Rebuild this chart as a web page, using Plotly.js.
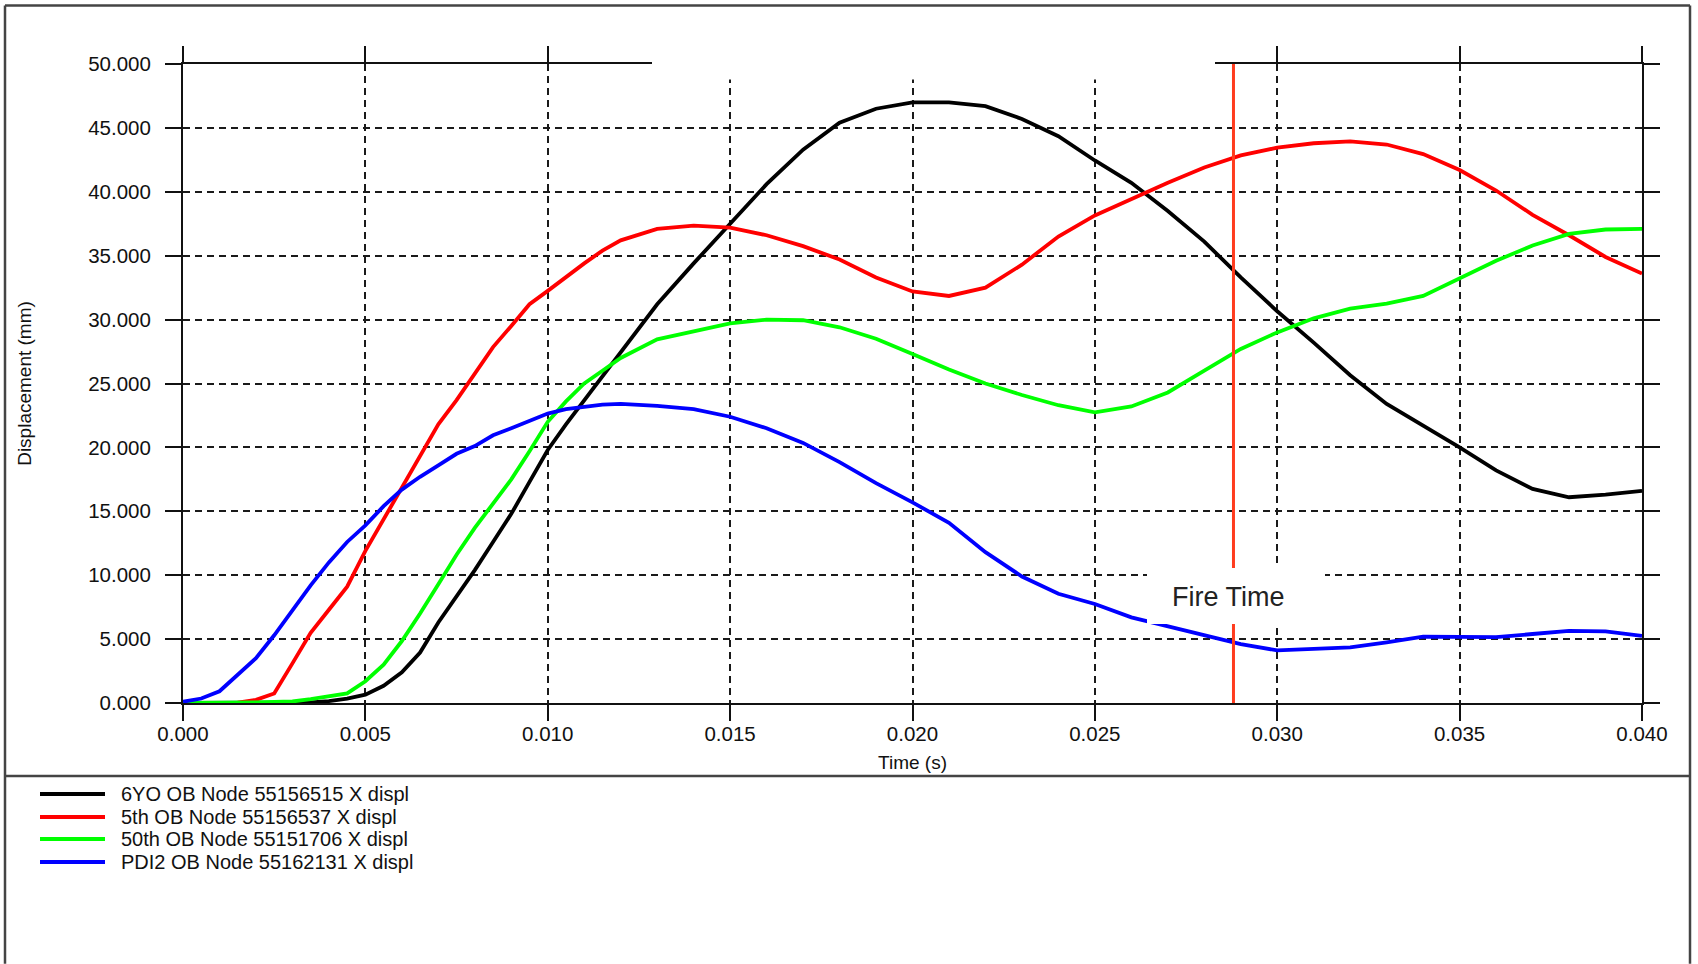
<!DOCTYPE html>
<html>
<head>
<meta charset="utf-8">
<script src="https://cdn.plot.ly/plotly-3.0.1.min.js"></script>
<style>html,body{margin:0;padding:0;background:#fff;}#chart{width:1698px;height:964px;}</style>
</head>
<body>
<div id="chart"></div>
<script>
// ---- data (time in s, displacement in mm) ----
const time = [0.0000,0.0005,0.0010,0.0015,0.0020,0.0025,0.0030,0.0035,0.0040,0.0045,
              0.0050,0.0055,0.0060,0.0065,0.0070,0.0075,0.0080,0.0085,0.0090,0.0095,
              0.0100,0.0105,0.0110,0.0115,0.0120,
              0.013,0.014,0.015,0.016,0.017,0.018,0.019,0.020,0.021,0.022,
              0.023,0.024,0.025,0.026,0.027,0.028,0.029,0.030,0.031,0.032,
              0.033,0.034,0.035,0.036,0.037,0.038,0.039,0.040];
const sixYO = [0,0,0,0,0,0,0,0.05,0.15,0.35,
               0.65,1.35,2.4,3.95,6.3,8.3,10.4,12.6,14.8,17.3,
               19.8,21.8,23.7,25.6,27.5,
               31.2,34.4,37.5,40.6,43.3,45.4,46.5,47.0,47.0,46.7,
               45.7,44.35,42.45,40.7,38.5,36.1,33.3,30.65,28.2,25.65,
               23.4,21.7,20.0,18.2,16.75,16.1,16.3,16.6];
const fifth = [0,0,0,0.02,0.25,0.75,3.1,5.5,7.3,9.1,
               11.9,14.4,16.8,19.3,21.8,23.7,25.8,27.85,29.5,31.2,
               32.25,33.35,34.4,35.4,36.2,
               37.1,37.35,37.2,36.6,35.75,34.7,33.3,32.2,31.85,32.5,
               34.3,36.5,38.15,39.45,40.7,41.9,42.85,43.45,43.8,43.95,
               43.7,42.95,41.7,40.1,38.2,36.6,34.9,33.6];
const fiftieth = [0,0,0,0.02,0.05,0.08,0.12,0.3,0.5,0.75,
                  1.7,3.0,4.85,7.0,9.3,11.6,13.7,15.6,17.5,19.7,
                  22.0,23.6,25.0,26.0,27.0,
                  28.45,29.1,29.7,30.0,29.95,29.4,28.5,27.3,26.1,25.0,
                  24.1,23.3,22.75,23.2,24.3,26.0,27.7,29.0,30.1,30.85,
                  31.25,31.85,33.2,34.6,35.8,36.7,37.05,37.1];
const pdi2 = [0.1,0.35,0.92,2.2,3.5,5.3,7.3,9.2,11.0,12.6,
              13.9,15.4,16.7,17.7,18.6,19.5,20.1,20.95,21.5,22.1,
              22.65,23.0,23.2,23.35,23.4,
              23.25,23.0,22.4,21.5,20.35,18.85,17.2,15.7,14.1,11.8,
              9.9,8.55,7.75,6.7,6.0,5.25,4.6,4.12,4.2,4.35,
              4.75,5.2,5.17,5.15,5.4,5.65,5.6,5.25];
const seriesNames = ['6YO OB Node 55156515 X displ','5th OB Node 55156537 X displ',
                     '50th OB Node 55151706 X displ','PDI2 OB Node 55162131 X displ'];
const seriesValues = [sixYO, fifth, fiftieth, pdi2];
const seriesColors = ['#000000','#ff0000','#00ff00','#0000ff'];
const fireTime = 0.0288;
const fireLabel = 'Fire Time';
const xTitle = 'Time (s)';
const yTitle = 'Displacement (mm)';

// ---- geometry (pixels) ----
const W = 1698, H = 964;
const ML = 183, PW = 1459, MT = 63.5, MB = 261;
const PH = H - MT - MB;
const PBOT = MT + PH;
const px = v => (v - ML) / PW;      // pixel x -> paper
const py = v => (PBOT - v) / PH;    // pixel y -> paper
const FONT = 'Liberation Sans, Arial, sans-serif';

const traces = seriesValues.map((vals, i) => ({
  type: 'scatter', mode: 'lines', x: time, y: vals, name: seriesNames[i],
  line: {color: seriesColors[i], width: 3.8}, showlegend: false, hoverinfo: 'skip'
}));

const frameColor = '#444';
const shapes = [
  // outer frame
  {type:'line', xref:'paper', yref:'paper', x0:px(5), x1:px(1690), y0:py(5), y1:py(5), line:{color:frameColor, width:2.5}},
  {type:'line', xref:'paper', yref:'paper', x0:px(5), x1:px(5), y0:py(5), y1:py(964), line:{color:frameColor, width:2.5}},
  {type:'line', xref:'paper', yref:'paper', x0:px(1690), x1:px(1690), y0:py(5), y1:py(964), line:{color:frameColor, width:2.5}},
  {type:'line', xref:'paper', yref:'paper', x0:px(5), x1:px(1690), y0:py(776), y1:py(776), line:{color:frameColor, width:2.5}},
  // fire time marker
  {type:'line', xref:'x', yref:'y', x0:fireTime, x1:fireTime, y0:0, y1:50.27, layer:'above', line:{color:'#ff3c1e', width:3}},
  // white patch at top (erased title area)
  {type:'rect', xref:'paper', yref:'paper', x0:px(652), x1:px(1215), y0:py(79), y1:py(20), layer:'above', fillcolor:'#ffffff', line:{width:0}},
  // white box behind Fire Time label
  {type:'rect', xref:'paper', yref:'paper', x0:px(1147), x1:px(1325), y0:py(624), y1:py(568), layer:'above', fillcolor:'#ffffff', line:{width:0}}
];

const annotations = [
  {xref:'x', yref:'y', x:0.02866, y:8.33, text:fireLabel, showarrow:false, xanchor:'center', yanchor:'middle',
   font:{family:FONT, size:27, color:'#222'}}
];

// manual legend
const legendRows = [794, 817, 839, 862];
seriesNames.forEach((n, i) => {
  shapes.push({type:'line', xref:'paper', yref:'paper', x0:px(40), x1:px(105), y0:py(legendRows[i]), y1:py(legendRows[i]),
               line:{color:seriesColors[i], width:4}});
  annotations.push({xref:'paper', yref:'paper', x:px(119), y:py(legendRows[i]), text:n, showarrow:false,
                    xanchor:'left', yanchor:'middle', font:{family:FONT, size:20, color:'#111'}});
});

const axisCommon = {
  showgrid:true, gridcolor:'#1a1a1a', gridwidth:2, griddash:'7px,5px',
  showline:true, linecolor:'#111', linewidth:2, mirror:'ticks',
  ticks:'outside', ticklen:16, tickwidth:2, tickcolor:'#111',
  zeroline:false, tickfont:{family:FONT, size:20.5, color:'#111'}, automargin:false
};

const layout = {
  width:W, height:H, paper_bgcolor:'#fff', plot_bgcolor:'#fff',
  margin:{l:ML, r:W-ML-PW, t:MT, b:MB, pad:0},
  showlegend:false,
  xaxis: Object.assign({}, axisCommon, {range:[0,0.040], dtick:0.005, tick0:0, tickformat:'.3f',
          ticklabelstandoff:-5,
          title:{text:xTitle, font:{family:FONT, size:19, color:'#111'}, standoff:12}}),
  yaxis: Object.assign({}, axisCommon, {range:[0,50], dtick:5, tick0:0, tickformat:'.3f',
          ticklabelstandoff:10,
          title:{text:yTitle, font:{family:FONT, size:19, color:'#111'}, standoff:52}}),
  shapes: shapes,
  annotations: annotations
};

Plotly.newPlot('chart', traces, layout, {displayModeBar:false, staticPlot:true});
</script>
</body>
</html>
